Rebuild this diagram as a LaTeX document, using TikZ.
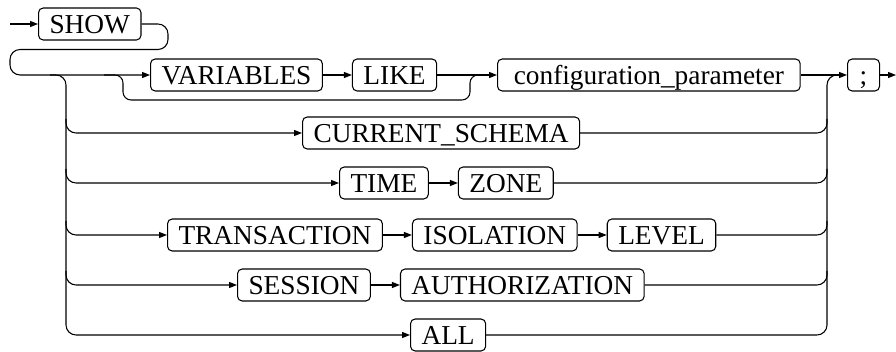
\documentclass[tikz,border=0pt]{standalone}
\usepackage{fontspec}
\setmainfont{Liberation Serif}
\usetikzlibrary{calc,positioning,arrows.meta}
\tikzset{
  kw/.style={draw, line width=0.8pt, rounded corners=3.5pt, inner xsep=8.25pt,
             inner ysep=0pt, text height=16pt, text depth=2.4pt,
             minimum height=24pt, minimum width=24pt,
             font=\fontsize{20.5pt}{24pt}\selectfont},
  rail/.style={line width=0.8pt, rounded corners=7.5pt},
  arr/.style={-{Triangle[length=6pt,width=4.5pt]}},
}

\begin{document}
\begin{tikzpicture}[x=0.75pt,y=-0.75pt]
  \useasboundingbox (0,0) rectangle (896,352);
  % --- keywords ---
  \node[kw, anchor=west] (show) at (38,24) {SHOW};
  \node[kw, anchor=west] (var) at (150,75) {VARIABLES};
  \node[kw, right=21.75pt of var] (like) {LIKE};
  \node[kw, anchor=west, minimum width=227pt] (cfg) at (497,75) {configuration\_parameter};
  \node[kw, anchor=west] (semi) at (847,75) {;};
  \node[kw, anchor=west] (cur) at (302,133) {CURRENT\_SCHEMA};
  \node[kw, anchor=west] (time) at (339,183) {TIME};
  \node[kw, right=21.75pt of time] (zone) {ZONE};
  \node[kw, anchor=west] (trans) at (167,235) {TRANSACTION};
  \node[kw, right=21.75pt of trans] (iso) {ISOLATION};
  \node[kw, right=21.75pt of iso] (level) {LEVEL};
  \node[kw, anchor=west] (sess) at (237,285) {SESSION};
  \node[kw, right=21.75pt of sess] (auth) {AUTHORIZATION};
  \node[kw, anchor=west] (all) at (410,335) {ALL};

  \coordinate (entry) at (10,24);
  \coordinate (exit) at (896,75);
  \coordinate (lrail) at (66,75);
  \coordinate (rrail) at (827,75);

  % --- main line ---
  \draw[rail, arr] (entry) -- (show.west);
  \draw[rail, arr] (show.east) -| (168,49.5) -| (10,75) -- (var.west);
  \foreach \a/\b in {var/like,like/cfg,cfg/semi,time/zone,trans/iso,iso/level,sess/auth}{
    \draw[rail, arr] (\a.east) -- (\b.west);
  }
  \draw[rail, arr] (semi.east) -- (exit);
  % skip VARIABLES LIKE
  \draw[rail, rounded corners=6pt] (104,75) -| (123,100) -| (470,75) -- (484,75);

  % --- alternatives ---
  \draw[rail, arr] ($(lrail)+(-16,0)$) -| (lrail |- all.west) -- (all.west);
  \draw[rail] (all.east) -| (rrail) -- ($(rrail)+(12,0)$);
  \foreach \first/\last in {cur/cur,time/zone,trans/level,sess/auth}{
    \draw[rail, arr] ($(lrail |- \first.west)+(0,-14)$) |- (\first.west);
    \draw[rail] (\last.east) -| ($(rrail |- \last.east)+(0,-14)$);
  }
\end{tikzpicture}
\end{document}
